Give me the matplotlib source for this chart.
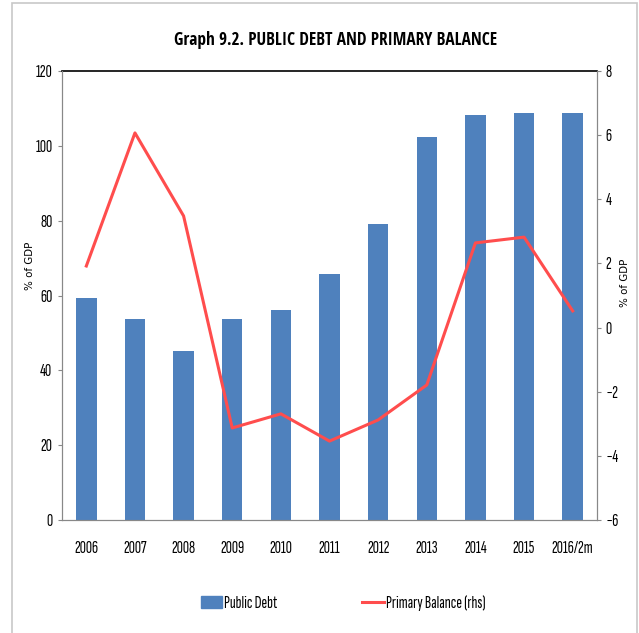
import matplotlib
matplotlib.use("Agg")
import matplotlib.pyplot as plt
import numpy as np
from matplotlib.patches import Rectangle
from matplotlib.lines import Line2D

years = ["2006", "2007", "2008", "2009", "2010", "2011", "2012", "2013", "2014", "2015", "2016/2m"]
public_debt = [59.2, 53.8, 45.2, 53.8, 56.2, 65.8, 79.2, 102.4, 108.2, 108.8, 108.7]
primary_balance = [1.92, 6.07, 3.48, -3.13, -2.69, -3.54, -2.88, -1.79, 2.64, 2.82, 0.52]

body_font = ["Sofia Sans Extra Condensed", "DejaVu Sans"]
title_font = ["Open Sans Condensed", "DejaVu Sans"]
label_font = ["DejaVu Sans"]
plt.rcParams["font.family"] = body_font

bar_color = "#4f81bd"
line_color = "#ff4d4d"
axis_grey = "#888888"

fig = plt.figure(figsize=(6.39, 6.33), dpi=100)
# light frame round the chart
fig.patches.append(Rectangle((12 / 639, -0.01), 625 / 639, 1 - 3 / 633 + 0.01,
                             transform=fig.transFigure, fill=False,
                             edgecolor="#c8c8c8", lw=1.2))

ax = fig.add_axes([62 / 639, 1 - 520 / 633, 535 / 639, 449 / 633])
x = np.arange(len(years))
ax.bar(x, public_debt, width=0.42, color=bar_color, zorder=2)
ax.set_xlim(-0.5, len(years) - 0.5)
ax.set_ylim(0, 120)
ax.set_yticks(range(0, 121, 20))
ax.set_xticks(x)
ax.set_xticklabels(years)
ax.tick_params(axis="x", length=0, pad=15, labelsize=12.5)
ax.tick_params(axis="y", length=3, color=axis_grey, labelsize=12.5, pad=4)
for side in ["left", "right", "bottom"]:
    ax.spines[side].set_color(axis_grey)
ax.spines["top"].set_color("black")
ax.spines["top"].set_linewidth(1.2)

ax2 = ax.twinx()
ax2.plot(x, primary_balance, color=line_color, lw=2.2, zorder=3)
ax2.set_ylim(-6, 8)
ax2.set_yticks(range(-6, 9, 2))
ax2.tick_params(axis="y", length=3, color=axis_grey, labelsize=12.5, pad=3)
for side in ["left", "right", "bottom"]:
    ax2.spines[side].set_color(axis_grey)
ax2.spines["top"].set_visible(False)

# axis titles on both sides
fig.text(30 / 639, 1 - 266 / 633, "% of GDP", rotation=90, ha="center", va="center",
         family=label_font, fontsize=7.4)
fig.text(625 / 639, 1 - 283 / 633, "% of GDP", rotation=90, ha="center", va="center",
         family=label_font, fontsize=7.4)

fig.text(336 / 639, 1 - 40 / 633, "Graph 9.2. PUBLIC DEBT AND PRIMARY BALANCE",
         ha="center", va="center", fontsize=12.4, fontweight="bold", family=title_font)

handles = [Rectangle((0, 0), 1, 1, color=bar_color),
           Line2D([0], [0], color=line_color, lw=2.2)]
fig.legend(handles, ["Public Debt", "Primary Balance (rhs)"],
           loc="center", bbox_to_anchor=(343 / 639, 1 - 603 / 633), ncol=2,
           frameon=False, fontsize=12.5, handlelength=1.25, handletextpad=0.1,
           columnspacing=4.9)

fig.savefig("out.png", dpi=100)
